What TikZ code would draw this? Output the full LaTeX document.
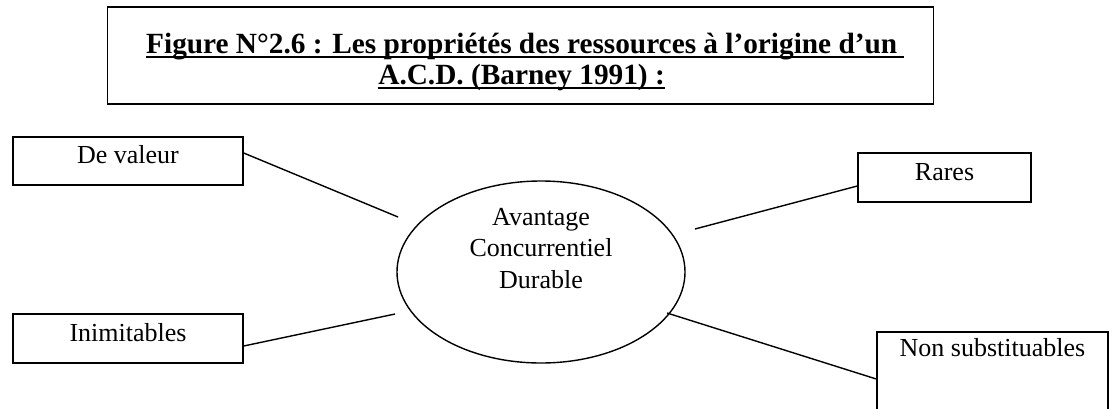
\documentclass[tikz,border=0pt]{standalone}
\usepackage{fontspec}
\setmainfont{Liberation Serif}
\usetikzlibrary{shapes.geometric}

% underlined text with a Word-like rule under the baseline
\newcommand{\ulbox}[1]{\setbox0\hbox{#1}\rlap{\rule[-5pt]{\wd0}{2.2pt}}\box0}

\tikzset{
  frame/.style={draw=black, line width=1.4pt, rectangle, inner sep=0pt},
  prop/.style={frame},
  txt/.style={inner sep=0pt, font=\fontsize{26}{31.5}\selectfont},
  ttl/.style={inner sep=0pt, font=\fontsize{29.3}{31}\selectfont\bfseries},
  link/.style={draw=black, line width=1.4pt},
}

\begin{document}
\begin{tikzpicture}[x=1pt, y=-1pt]
  \clip (0,0) rectangle (1115,408);
  \fill[white] (0,0) rectangle (1115,408);

  % title frame
  \node[frame, minimum width=826, minimum height=97] (title) at (520.5,55.5) {};
  \node[ttl, anchor=base west] (t1) at (146,53) {\ulbox{Figure N°2.6 : Les propriétés des ressources à l’origine d’un\ }};
  \node[ttl, anchor=base east] (t2) at (665,84) {\ulbox{A.C.D. (Barney 1991) :}};

  % central ellipse
  \node[draw=black, line width=1.4pt, ellipse, minimum width=288, minimum height=182, inner sep=0pt] (acd) at (541,272) {};
  \node[txt, align=center, anchor=base] (acdtxt) at (541,288) {Avantage\\Concurrentiel\\Durable};

  % property boxes
  \node[prop, minimum width=230, minimum height=48] (valeur) at (128,161) {};
  \node[txt, anchor=base] (valeurtxt) at (128,163) {De valeur};

  \node[prop, minimum width=230, minimum height=49] (inim) at (128,338.5) {};
  \node[txt, anchor=base] (inimtxt) at (128,341) {Inimitables};

  \node[prop, minimum width=173, minimum height=49] (rares) at (944.5,177.5) {};
  \node[txt, anchor=base] (rarestxt) at (944.5,180) {Rares};

  \node[prop, minimum width=231, minimum height=108] (nonsub) at (992.5,386) {};
  \node[txt, anchor=base] (nonsubtxt) at (992.5,356) {Non substituables};

  % free ends of the connectors, just short of the ellipse
  \coordinate (eValeur) at (398,217);
  \coordinate (eInim) at (395,314);
  \coordinate (eRares) at (695,229);
  \coordinate (eNonsub) at (667,313);

  \draw[link] ([yshift=8pt]valeur.east) -- (eValeur);
  \draw[link] ([yshift=-7.5pt]inim.east) -- (eInim);
  \draw[link] ([yshift=-8.5pt]rares.west) -- (eRares);
  \draw[link] ([yshift=7pt]nonsub.west) -- (eNonsub);
\end{tikzpicture}
\end{document}
